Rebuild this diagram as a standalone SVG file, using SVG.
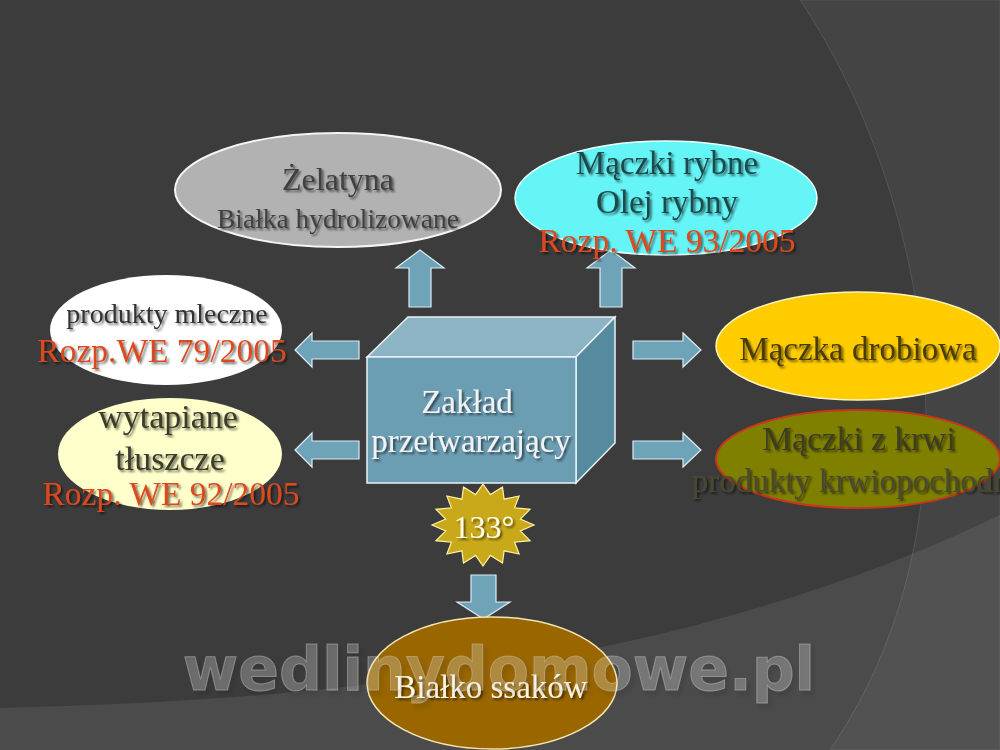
<svg xmlns="http://www.w3.org/2000/svg" width="1000" height="750" viewBox="0 0 1000 750">
<defs>
<filter id="sh" x="-10%" y="-30%" width="120%" height="160%">
<feDropShadow dx="2" dy="2" stdDeviation="1.2" flood-color="#000" flood-opacity="0.55"/>
</filter>
<filter id="wsh" x="-5%" y="-30%" width="110%" height="160%">
<feDropShadow dx="3" dy="4" stdDeviation="2" flood-color="#000" flood-opacity="0.35"/>
</filter>
<style>
text{font-family:"Liberation Serif","Times New Roman",serif;text-anchor:middle;filter:url(#sh);}
.red{fill:#dd4a1e;font-size:33.5px;}
.arrow{fill:#6fa3b8;stroke:#dcecf3;stroke-width:1.2;}
.wm{font-family:"DejaVu Sans",Verdana,sans-serif;font-weight:bold;font-size:60px;fill:#ffffff;fill-opacity:0.22;stroke:#c8c8c8;stroke-opacity:0.45;stroke-width:1;filter:url(#wsh);}
</style>
</defs>
<g id="background">
<rect x="0" y="0" width="1000" height="750" fill="#3c3c3c"/>
<path d="M800,0 C915,170 1000,500 830,750 L1000,750 L1000,0 Z" fill="#ffffff" fill-opacity="0.045" stroke="#555" stroke-width="1"/>
<path d="M0,708 C350,700 700,660 1000,515 L1000,750 L0,750 Z" fill="#ffffff" fill-opacity="0.08"/>
</g>
<g id="connectors">
<path class="arrow" d="M409,307 L409,268 L396,268 L420,250 L444,268 L431,268 L431,307 Z"/>
<path class="arrow" d="M600,307 L600,268 L587,268 L611,250 L635,268 L622,268 L622,307 Z"/>
<path class="arrow" d="M359,341 L312,341 L312,333 L295,350 L312,367 L312,359 L359,359 Z"/>
<path class="arrow" d="M359,441 L312,441 L312,433 L295,450 L312,467 L312,459 L359,459 Z"/>
<path class="arrow" d="M633,341 L683,341 L683,333 L701,350 L683,367 L683,359 L633,359 Z"/>
<path class="arrow" d="M633,441 L683,441 L683,433 L701,450 L683,467 L683,459 L633,459 Z"/>
<path class="arrow" d="M471,575 L496,575 L496,602 L510,602 L483.5,619 L457,602 L471,602 Z"/>
</g>
<g id="zelatyna">
<ellipse cx="338" cy="190" rx="163" ry="57" fill="#b2b2b2" stroke="#f4f4f4" stroke-width="2"/>
<text x="338" y="190" font-size="32" fill="#404040">Żelatyna</text>
<text x="338" y="228" font-size="27.5" fill="#404040">Białka hydrolizowane</text>
</g>
<g id="maczki-rybne">
<ellipse cx="666" cy="198" rx="151" ry="57" fill="#66f5f7" stroke="#e8ffff" stroke-width="1.5"/>
<text x="667" y="174" font-size="33" fill="#1f4a4a">Mączki rybne</text>
<text x="667" y="213" font-size="33" fill="#1f4a4a">Olej rybny</text>
<text x="667" y="252" class="red">Rozp. WE 93/2005</text>
</g>
<g id="produkty-mleczne">
<ellipse cx="166" cy="330" rx="116" ry="55" fill="#ffffff"/>
<text x="167" y="323" font-size="28" fill="#333333">produkty mleczne</text>
<text x="162" y="362" class="red">Rozp.WE 79/2005</text>
</g>
<g id="tluszcze">
<ellipse cx="170" cy="454" rx="112" ry="56" fill="#ffffcc"/>
<text x="168" y="428" font-size="34" fill="#3a3a2a">wytapiane</text>
<text x="170" y="470" font-size="34" fill="#3a3a2a">tłuszcze</text>
<text x="171" y="505" class="red">Rozp. WE 92/2005</text>
</g>
<g id="maczka-drobiowa">
<ellipse cx="858" cy="346" rx="142" ry="54" fill="#ffcc00" stroke="#fff4c0" stroke-width="1.5"/>
<text x="858" y="360" font-size="33" fill="#4a3c00">Mączka drobiowa</text>
</g>
<g id="maczki-krwi">
<ellipse cx="858" cy="459" rx="142" ry="49" fill="#808000" stroke="#c8361a" stroke-width="2"/>
<text x="859" y="450" font-size="33.5" fill="#3d3d20">Mączki z krwi</text>
<text x="858" y="492" font-size="33" fill="#4a4a32">produkty krwiopochodne</text>
</g>
<g id="zaklad">
<polygon points="367,357 408,317 615,317 576,357" fill="#8cb4c4" stroke="#e8f2f6" stroke-width="1.5"/>
<polygon points="576,357 615,317 615,443 576,483" fill="#568a9e" stroke="#e8f2f6" stroke-width="1.5"/>
<rect x="367" y="357" width="209" height="126" fill="#6b9db3" stroke="#e8f2f6" stroke-width="1.5"/>
<text x="467" y="413" font-size="33" fill="#f2f2f2">Zakład</text>
<text x="471" y="452" font-size="33" fill="#f2f2f2">przetwarzający</text>
</g>
<g id="temperatura">
<polygon points="483,484 490.4,494.6 502.5,487.1 504.1,499.2 519.1,496 514.6,507.8 530.1,509.3 520.3,519 534,525 520.3,531 530.1,540.7 514.6,542.2 519.1,554 504.1,550.8 502.5,562.9 490.4,555.4 483,566 475.6,555.4 463.5,562.9 461.9,550.8 446.9,554 451.4,542.2 435.9,540.7 445.7,531 432,525 445.7,519 435.9,509.3 451.4,507.8 446.9,496 461.9,499.2 463.5,487.1 475.6,494.6" fill="#c9a919" stroke="#fff1a0" stroke-width="1.2"/>
<text x="484" y="538" font-size="32" fill="#fffbe6">133°</text>
</g>
<g id="bialko-ssakow">
<ellipse cx="492" cy="683" rx="125" ry="66" fill="#996600" stroke="#f5e6b0" stroke-width="1.5"/>
<text x="491" y="698" font-size="33" fill="#fff8e6">Białko ssaków</text>
</g>
<text class="wm" x="499" y="690">wedlinydomowe.pl</text>
</svg>
